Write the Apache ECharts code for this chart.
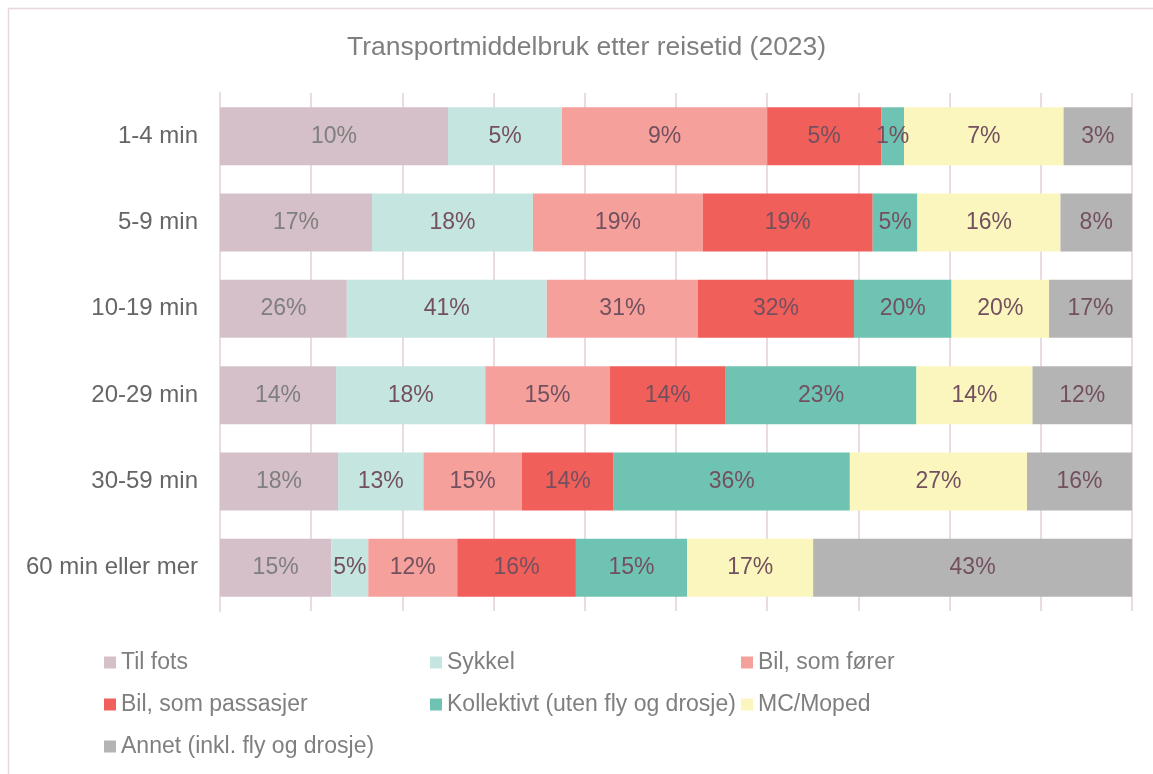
<!DOCTYPE html>
<html>
<head>
<meta charset="utf-8">
<script src="https://cdn.jsdelivr.net/npm/echarts@6/dist/echarts.min.js"></script>
<style>
  html, body { margin: 0; padding: 0; background: #fff; }
  #chart { width: 1153px; height: 774px; }
</style>
</head>
<body>
<div id="chart"></div>
<script>
var categories = ['1-4 min', '5-9 min', '10-19 min', '20-29 min', '30-59 min', '60 min eller mer'];
var seriesNames = ['Til fots', 'Sykkel', 'Bil, som fører', 'Bil, som passasjer', 'Kollektivt (uten fly og drosje)', 'MC/Moped', 'Annet (inkl. fly og drosje)'];
var tilFots = [10, 17, 26, 14, 18, 15];
var sykkel = [5, 18, 41, 18, 13, 5];
var bilForer = [9, 19, 31, 15, 15, 12];
var bilPassasjer = [5, 19, 32, 14, 14, 16];
var kollektivt = [1, 5, 20, 23, 36, 15];
var mcMoped = [7, 16, 20, 14, 27, 17];
var annet = [3, 8, 17, 12, 16, 43];
var colors = ['#d5bfc8', '#c5e6e0', '#f6a09c', '#f05f5a', '#6fc3b2', '#fbf6bd', '#b4b4b4'];

var allValues = [tilFots, sykkel, bilForer, bilPassasjer, kollektivt, mcMoped, annet];
var font = 'Liberation Sans, Arial, sans-serif';

// each row is drawn as 100 % stacked
var rowSums = categories.map(function (c, i) {
    var s = 0;
    allValues.forEach(function (v) { s += v[i]; });
    return s;
});

var series = allValues.map(function (vals, k) {
    return {
        name: seriesNames[k],
        type: 'bar',
        stack: 'total',
        barWidth: 58,
        itemStyle: { color: colors[k] },
        label: {
            show: true,
            position: 'inside',
            fontFamily: font,
            fontSize: 23,
            color: k === 0 ? '#7f7f7f' : '#73505f',
            formatter: function (p) { return vals[p.dataIndex] + '%'; }
        },
        emphasis: { disabled: true },
        data: vals.map(function (v, i) { return v / rowSums[i] * 100; })
    };
});

function legendCol(names, left) {
    return {
        data: names,
        left: left,
        top: 651,
        padding: 0,
        orient: 'vertical',
        icon: 'rect',
        itemWidth: 12,
        itemHeight: 12,
        itemGap: 19,
        textStyle: { fontFamily: font, fontSize: 23, color: '#7f7f7f' },
        selectedMode: false
    };
}

var chart = echarts.init(document.getElementById('chart'));
chart.setOption({
    animation: false,
    title: {
        text: 'Transportmiddelbruk etter reisetid (2023)',
        left: 342,
        top: 29,
        textStyle: { fontFamily: font, fontSize: 26.5, fontWeight: 'normal', color: '#7f7f7f' }
    },
    graphic: [{
        type: 'rect',
        shape: { x: 8.5, y: 8.5, width: 1300, height: 900 },
        style: { fill: 'none', stroke: '#e8d8dd', lineWidth: 1.5 },
        silent: true
    }],
    legend: [
        legendCol([seriesNames[0], seriesNames[3], seriesNames[6]], 104),
        legendCol([seriesNames[1], seriesNames[4]], 430),
        legendCol([seriesNames[2], seriesNames[5]], 741)
    ],
    grid: { left: 220, right: 21, top: 93, height: 518 },
    xAxis: {
        type: 'value',
        min: 0,
        max: 100,
        interval: 10,
        axisLabel: { show: false },
        axisLine: { show: false },
        axisTick: { show: false },
        splitLine: { show: true, lineStyle: { color: '#e8dce0', width: 2 } }
    },
    yAxis: {
        type: 'category',
        inverse: true,
        data: categories,
        axisLine: { show: true, lineStyle: { color: '#e8dce0', width: 2 } },
        axisTick: { show: false },
        axisLabel: { fontFamily: font, fontSize: 24, color: '#666666', margin: 22 }
    },
    series: series
});
</script>
</body>
</html>
